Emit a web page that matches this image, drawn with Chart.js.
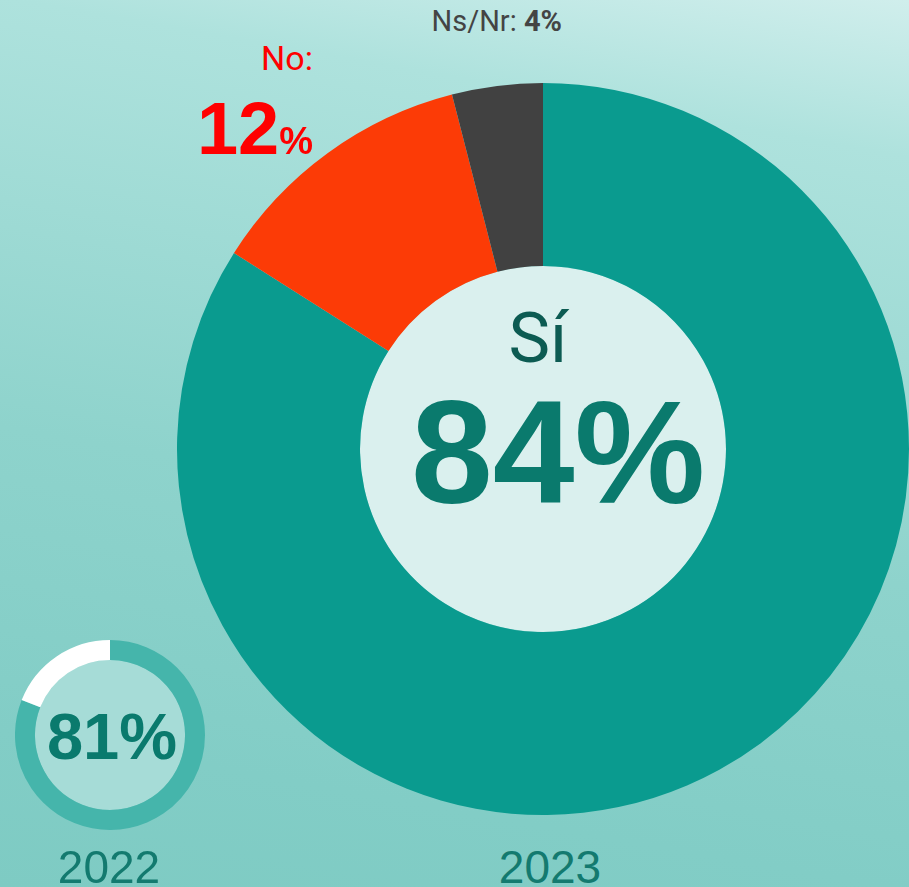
<!DOCTYPE html>
<html lang="es">
<head>
<meta charset="utf-8">
<title>Sí 84%</title>
<script src="https://cdn.jsdelivr.net/npm/chart.js@4"></script>
<style>
  html, body { margin: 0; padding: 0; }
  body {
    width: 909px; height: 887px; overflow: hidden; position: relative;
    background: linear-gradient(190deg, #d0eeec 0%, #aee2dd 15%, #8ed3cc 56%, #82cdc6 85%, #7ecbc3 100%);
    font-family: "Liberation Sans", Arial, sans-serif;
  }
  canvas { position: absolute; }
  #big { left: 177px; top: 83px; }
  #small { left: 15px; top: 640px; }
  .t { position: absolute; white-space: nowrap; line-height: 1; }
  #nsnr { right: 347px; top: 7px; font-family: Roboto, sans-serif; font-size: 29px; color: #444; }
  #nsnr b { font-weight: 700; }
  #noLbl { right: 596px; top: 41px; font-family: Roboto, sans-serif; font-size: 34px; color: #ff0000; }
  #noVal { right: 596px; top: 92px; font-weight: 700; font-size: 74px; color: #ff0000; }
  #noVal span { font-size: 38px; }
  #siLbl { left: 438px; width: 200px; text-align: center; top: 303px; font-family: Roboto, sans-serif; font-size: 70px; color: #0c5b52; }
  #siVal { left: 343px; width: 430px; text-align: center; top: 379px; font-weight: 700; font-size: 147px; color: #0a7a6d; }
  #oldVal { left: 12px; width: 200px; text-align: center; top: 704px; font-weight: 700; font-size: 65px; color: #0a7a6d; }
  .year { width: 200px; text-align: center; top: 844px; font-size: 46px; color: #137a6f; }
</style>
</head>
<body>
<canvas id="big" width="732" height="732"></canvas>
<canvas id="small" width="190" height="190"></canvas>

<div class="t" id="nsnr"></div>
<div class="t" id="noLbl"></div>
<div class="t" id="noVal"></div>
<div class="t" id="siLbl"></div>
<div class="t" id="siVal"></div>
<div class="t" id="oldVal"></div>
<div class="t year" id="y0" style="left:9px"></div>
<div class="t year" id="y1" style="left:450px"></div>

<script>
  // Data
  const categories = ["Sí", "No", "Ns/Nr"];
  const values2023 = [84, 12, 4];
  const colors2023 = ["#0a9b8f", "#fc3b06", "#414141"];
  const labels2022 = ["Sí", "Resto"];
  const values2022 = [81, 19];
  const colors2022 = ["#45b5ab", "#ffffff"];
  const years = ["2022", "2023"];

  // Fill the hole of a doughnut
  const holeFill = {
    id: "holeFill",
    beforeDatasetsDraw(chart, args, opts) {
      const arc = chart.getDatasetMeta(0).data[0];
      if (!arc) return;
      const ctx = chart.ctx;
      ctx.save();
      ctx.beginPath();
      ctx.arc(arc.x, arc.y, arc.innerRadius, 0, Math.PI * 2);
      ctx.fillStyle = opts.color;
      ctx.fill();
      ctx.restore();
    }
  };

  function donut(id, labels, data, colors, cutout, hole) {
    return new Chart(document.getElementById(id).getContext("2d"), {
      type: "doughnut",
      data: { labels: labels, datasets: [{ data: data, backgroundColor: colors, borderWidth: 0 }] },
      options: {
        responsive: false,
        animation: false,
        cutout: cutout,
        layout: { padding: 0 },
        plugins: { legend: { display: false }, tooltip: { enabled: false }, holeFill: { color: hole } }
      },
      plugins: [holeFill]
    });
  }

  donut("big", categories, values2023, colors2023, "50%", "#daf0ee");
  donut("small", labels2022, values2022, colors2022, "79%", "#a6dcd7");

  // Texts
  document.getElementById("nsnr").innerHTML = categories[2] + ": <b>" + values2023[2] + "%</b>";
  document.getElementById("noLbl").textContent = categories[1] + ":";
  document.getElementById("noVal").innerHTML = values2023[1] + "<span>%</span>";
  document.getElementById("siLbl").textContent = categories[0];
  document.getElementById("siVal").textContent = values2023[0] + "%";
  document.getElementById("oldVal").textContent = values2022[0] + "%";
  document.getElementById("y0").textContent = years[0];
  document.getElementById("y1").textContent = years[1];
</script>
</body>
</html>
